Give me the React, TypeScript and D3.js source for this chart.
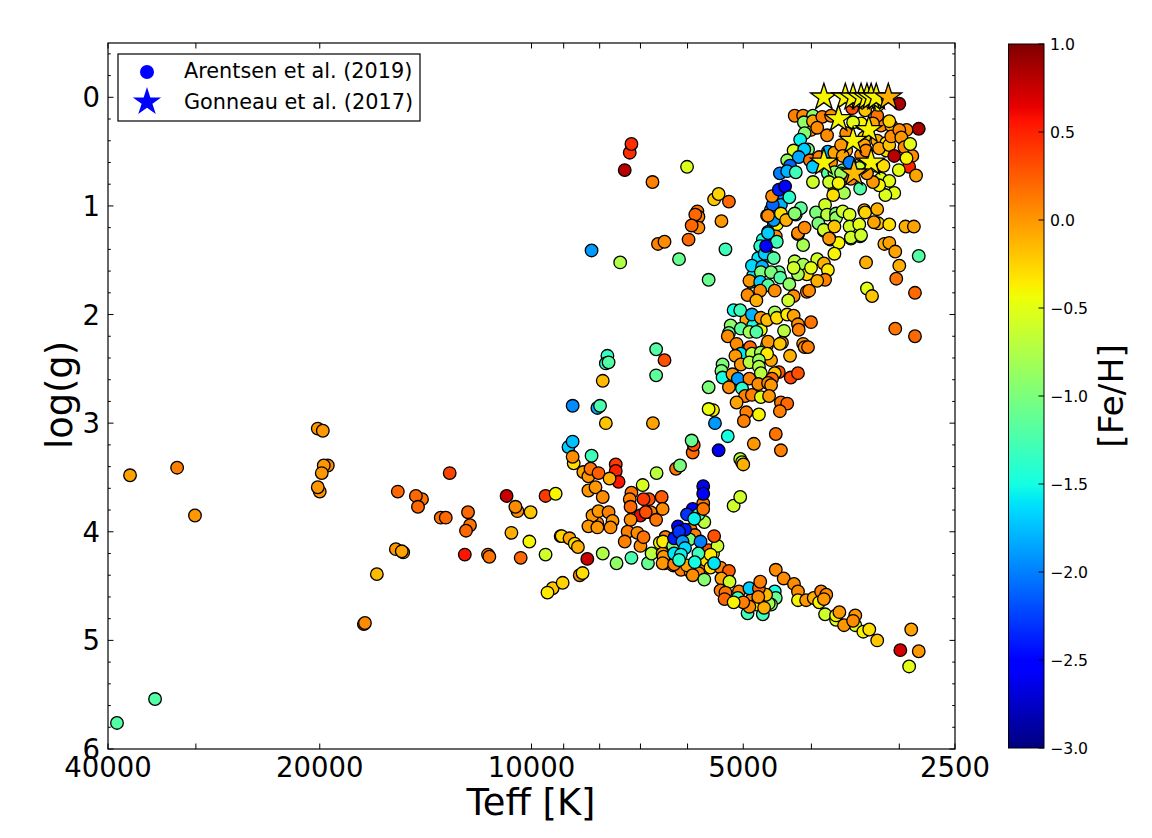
import React from "react";
import * as d3 from "d3";

type Row = [number, number, number]; // Teff [K], log(g), [Fe/H]

const hotStars: Row[] = [
  [38840,5.76,-1.2],[34290,5.54,-1.2],[37216,3.48,-0.05],[31900,3.41,0.1],[30090,3.85,0],
  [20130,3.05,0],[19800,3.07,0],[19480,3.39,0.05],[19740,3.39,0],[19870,3.46,0],[20000,3.63,0],[20130,3.59,0],
  [15490,3.63,0.2],[14310,3.7,0.15],[14600,3.67,0.2],[14500,3.77,0.2],[13070,3.46,0.35],[13460,3.87,0.15],[13240,3.87,0.2],
  [12310,3.82,0.2],[12230,3.94,0.15],[12390,3.99,0.2],[12440,4.21,0.55],[11530,4.21,0.1],[11480,4.23,0.15],
  [15590,4.16,0],[15220,4.19,0],[15290,4.18,-0.05],[16590,4.39,-0.15],[17310,4.85,0],[17250,4.84,0.05],
  [10850,3.67,0.75],[10470,3.81,0.05],[10540,3.77,0.05],[10030,3.82,-0.2],[10680,4.01,-0.1],[10070,4.09,-0.4],[10360,4.24,0.2],
];

const warmStars: Row[] = [
  [9550,4.21,-0.6],[9550,3.67,0.4],[9240,3.65,-0.4],[9090,4.04,-0.2],[9330,4.52,-0.2],[9490,4.56,-0.35],[9030,4.47,-0.25],
  [8860,3.22,-1.7],[8740,3.17,-1.75],[8710,3.37,-0.3],[8740,3.31,0.05],[8215,3.3,-1.3],[8440,3.45,-0.05],[8300,3.49,0],[8243,3.42,0.15],
  [8030,3.46,0.25],[7590,3.38,0.4],[7590,3.44,0.5],[7520,3.54,0.55],[7745,3.51,-0.1],[8300,3.62,0],[8110,3.59,0],[7920,3.68,0.05],
  [6950,3.57,-0.55],[6640,3.46,-0.7],[6230,3.42,0.15],[6150,3.39,-1],[5900,3.27,0.2],[5880,3.2,0.3],[5920,3.16,-1.1],[5420,3.25,-2.6],
  [7210,3.64,0.15],[7250,3.7,0.1],[7230,3.77,0.2],[6810,3.7,0.3],[6930,3.7,0.4],[6530,3.68,0.25],[6510,3.79,0.05],[7000,3.85,0.6],
  [6770,3.82,0.1],[6880,3.82,0.3],[6650,3.89,0.15],[7230,3.89,0.05],[7300,4,0.1],[7070,4.01,0.05],[7370,4.09,0.1],[7000,4.13,0.05],[6930,4.05,0.15],
  [8060,3.92,0.1],[8190,3.85,0],[8030,3.81,0],[7770,3.82,0.1],[8300,3.95,0],[8060,3.96,0],[7670,3.9,0],[7720,3.96,0.05],
  [9060,4.04,-0.25],[8830,4.06,-0.05],[8680,4.11,-0.3],[8590,4.14,-0.1],[8330,4.25,0.75],[7920,4.2,-0.75],[7570,4.29,-0.9],[7210,4.24,-1.25],
  [6830,4.29,-1.1],[6750,4.2,-0.7],[8540,4.4,0.05],[8460,4.38,-0.3],
];

const turnoffBackground: Row[] = [
  [6570,4.1,-0.4],[6450,4.05,-0.3],[6380,4.13,-0.25],[6230,4.2,0],[6510,4.2,-0.05],[6470,4.29,0.1],[6290,4.31,0.1],[6130,4.35,0.1],[5940,4.37,-0.05],
  [5750,4.33,0.05],[5655,4.26,-0.3],[5565,4.33,-0.3],[5940,3.98,0.1],[5860,4.03,0.1],[5520,4.2,-0.4],[5600,4.17,0.3],
  [5070,4.55,0.1],[4875,4.63,0.1],[4790,4.67,-0.4],[4640,4.6,-0.05],
];

const turnoffStars: Row[] = [
  [5700,3.74,0.1],[5160,3.76,-0.6],[5050,3.68,-0.6],[6450,4.05,0.1],[6490,4.23,0],[6510,4.29,0],[6500,4.09,-0.35],[6270,4.3,0.1],[6010,4.31,-0.05],
  [5790,4.38,0.05],[5900,4.4,0.05],[5680,4.44,-0.95],[5385,4.33,0.1],[5240,4.36,0.25],[5370,4.43,-0.05],[5230,4.46,-0.6],[5385,4.54,0.1],
  [5300,4.56,0.15],[5315,4.62,0.2],[5160,4.65,-0.4],[5440,4.13,-0.6],[5565,4.21,-0.35],[5500,4.04,0.3],
  [5860,3.88,-0.7],[5680,3.91,-0.7],[5960,4.07,-1],[6290,4.13,-1],
  [5700,3.58,-2.6],[5700,3.65,-2.5],[5900,3.79,-2.5],[6010,3.84,-2.3],[5790,3.84,-1.3],[5870,3.88,-1.55],[6190,3.95,-2.5],[6050,3.98,-2.4],[6270,4.06,-2.4],[6170,4,-2.3],
  [6100,4.09,-1.9],[5750,4.09,-2],[6050,4.15,-1.65],[6270,4.2,-1.6],[6130,4.21,-1.55],[5790,4.2,-1.3],[6170,4.26,-1.4],[5860,4.28,-1.5],[5500,4.29,-1.6],[5700,3.79,0.15],
];

const dwarfStars: Row[] = [
  [4900,4.52,-1.7],[4510,4.55,-1.5],[4495,4.61,-1.1],[4565,4.67,-0.9],[4930,4.75,-1.3],[4690,4.76,-1.3],[4600,4.66,-0.8],[5090,4.61,-1.3],
  [4640,4.58,-0.15],[4900,4.69,0.05],[5000,4.65,0.1],[4670,4.7,-0.1],[4750,4.52,0.2],[4730,4.46,0.1],[4760,4.6,0.05],
  [4495,4.35,0.05],[4380,4.43,0.05],[4235,4.48,0.05],[4180,4.55,0.05],[4180,4.63,-0.4],[4070,4.63,0],[3970,4.61,-0.1],
  [3875,4.55,0.1],[3810,4.58,0.05],[3900,4.65,-0.4],[3840,4.62,0],[3825,4.76,-0.6],[3690,4.81,-0.5],[3690,4.77,-0.4],[3650,4.74,0],
  [3465,4.86,-0.5],[3465,4.77,0],[3595,4.86,0],[3490,4.82,0.05],[3375,4.92,-0.4],[3310,4.9,-0.3],[3225,5,-0.2],
  [2885,4.9,-0.05],[2990,5.09,0.7],[2815,5.1,0],[2905,5.24,-0.5],
];

const lowerGiants: Row[] = [
  [5600,1.68,-1.1],[6170,1.49,-1.1],[5300,1.4,-1.3],[5980,1.31,0.2],
  [5210,2.1,-0.9],[4950,2.05,-0.05],[4840,2.1,-1.5],[4950,2.33,-0.3],[4720,2.14,-0.5],[4565,2.42,-0.05],[5040,2.65,-1.5],[5070,2.33,-1.6],
  [5160,1.96,-1.5],[5050,1.96,-1.3],[4860,2,-1.8],[4720,2.03,0],[4625,2.05,-0.15],[4510,1.98,-0.8],[4480,2.03,-0.3],[4330,2,-0.35],[4240,2.01,-0.05],
  [4180,2.09,0.05],[4170,2.14,0.1],[4005,2.07,0.15],[4375,2.15,-0.7],[5240,2.17,-1.1],[5260,2.2,0.05],[5040,2.13,-1.15],[4900,2.16,-0.8],[4790,2.16,-1.2],
  [5110,2.27,0.05],[4890,2.3,0.2],[4625,2.28,-0.7],[4610,2.25,0],[4405,2.26,0],[4435,2.27,-0.2],[5040,2.36,-1.6],[4860,2.36,-0.7],[4720,2.35,-0.8],[4625,2.36,-0.35],
  [4110,2.27,0],[4090,2.3,0.05],[4045,2.3,0.1],[4290,2.38,-0.1],[5130,2.38,0],[5040,2.46,0],[4900,2.44,-0.7],[4750,2.42,-0.85],[4750,2.48,-0.75],
  [5350,2.46,-1],[5370,2.52,-1],[5350,2.58,-1.5],[5180,2.55,0],[5090,2.59,-1.9],[4900,2.59,0.1],[5240,2.67,0.05],[5600,2.67,-1],[5020,2.68,-1.4],
  [4720,2.54,-0.7],[4450,2.53,0.3],[4280,2.58,0.35],[4180,2.54,0.3],[4510,2.54,-0.2],[4550,2.59,0.2],[4760,2.64,0.05],[4610,2.63,0.1],[4565,2.65,0],
  [4970,2.75,0.1],[4860,2.74,0.1],[4720,2.76,-0.5],[4595,2.75,0],[5110,2.81,-0.05],[4420,2.81,0.15],[4330,2.82,0.2],[4435,2.89,0.1],
  [5520,2.88,-0.35],[5600,2.87,-0.45],[4950,2.9,0.1],[4750,2.92,-0.4],[4990,2.98,0.1],[5485,3,-1.9],[5260,3.12,-1.5],[4495,3.1,0.15],[4830,3.19,0],[4420,3.25,0.1],
  [5050,3.33,-0.65],[5020,3.36,-0.7],[5000,3.38,-0.1],
];

const midGiants: Row[] = [
  [4570,1.04,-1.9],[4510,0.95,-2],[4420,0.9,-2],[4525,1.18,-1.5],[4480,1.17,-0.4],[4550,1.32,-1.6],[4690,1.31,-1.5],[4595,1.46,-1.6],[4760,1.48,-1.6],[4840,1.64,-1.6],[4880,1.7,-1.7],
  [4625,1.09,0.05],[4610,1.24,-1.75],[4495,1.28,0.05],[4610,1.25,-1.7],[4480,1.33,-1.3],[4730,1.37,-1.4],[4660,1.44,-1.7],[4640,1.37,-2.55],[4525,1.48,-1.2],
  [4860,1.55,-1.65],[4700,1.56,-1.8],[4720,1.61,-1],[4450,1.61,-1.1],[4565,1.61,-1],[4900,1.69,0],[4730,1.7,-1.7],[4610,1.73,-1.2],[4430,1.66,-1.2],
  [4510,1.78,0.05],[4730,1.78,0.05],[4930,1.82,0.05],[4790,1.87,-0.1],[4300,1.72,-0.9],[4240,1.83,0.05],[4315,1.87,-0.6],[4060,1.79,0.1],[4030,1.78,0.05],
  [4110,1.36,-0.8],[4180,1.26,0.05],[3840,1.23,-0.5],[3760,1.31,-0.15],[3660,1.34,-0.4],[3710,1.44,-0.4],[3515,1.3,-0.6],[3410,1.28,-0.5],[3345,1.52,-0.1],
  [3150,1.35,-0.1],[3100,1.34,-0.05],[3040,1.42,-0.05],[2815,1.46,-1.2],[3000,1.55,-0.1],[3030,1.67,0.15],[3335,1.76,-0.5],[3280,1.83,-0.2],[2850,1.8,0.2],
  [3040,2.13,0.15],[2850,2.2,0.2],[4225,1.51,-0.7],[4110,1.54,-0.8],[3925,1.49,-0.6],[3840,1.53,-0.1],[3790,1.59,-0.35],[3825,1.68,0.1],[3925,1.69,-0.1],
  [4060,1.63,-0.3],[4180,1.63,-0.8],[4240,1.57,-0.6],[4005,1.57,-0.5],
];

const upperGiants: Row[] = [
  [4005,0.3,0.05],[3400,0.24,-0.4],[3185,0.26,0.05],[3080,0.26,-0.1],[2930,0.3,0.05],[3570,0.49,-0.1],[3400,0.53,0.05],[3235,0.63,-0.4],[3130,0.49,-0.3],
  [3420,0.65,-0.6],[3610,0.67,-1.1],[3185,0.75,-0.5],[3515,0.75,0.05],[3980,0.78,-0.6],[3875,0.63,-0.3],[3750,0.6,0.05],
  [4525,1.13,-1.9],[4420,0.99,-1.8],[4540,0.99,-2.1],[4550,0.91,0.05],[4450,0.85,-2.4],[4360,0.82,-2.5],[4300,0.92,-1.4],[4610,1.09,0.05],[4420,1.07,-0.3],[4345,1.13,-0.1],
  [4210,1.08,-1.15],[4140,1.02,-1.15],[4225,1.07,-0.95],[4180,1.25,0.05],[4090,1.2,0.05],[3940,1.06,-1],[3825,0.99,-0.6],[3800,1.08,-0.7],[3910,1.16,-1],[3840,1.22,-0.6],
  [3690,1.07,-1],[3690,1.11,-0.9],[3710,1.19,-0.2],[3610,1.05,-0.6],[3530,1.08,-0.55],[3365,1.04,-0.1],[3355,1.06,-0.25],[3225,1.03,-0.1],[3530,1.19,-0.6],[3420,1.17,-0.5],
  [3215,1.16,-0.2],[3260,1.15,-0.05],[3100,1.17,-0.3],[2940,1.19,-0.1],[2860,1.19,-0.05],[3515,1.29,-0.6],[3400,1.27,-0.6],[3775,1.3,0],
  [3000,0.06,0.85],[2815,0.29,0.85],[3500,0.1,0.3],[3225,0.17,0.15],[3100,0.22,-0.25],[3355,0.12,-0.2],[3215,0.07,-0.4],[3490,0.23,-0.5],[3365,0.37,-0.3],[3225,0.4,-0.1],
  [3365,0.44,-0.05],[3270,0.24,-0.05],[3130,0.42,-0.35],
  [4225,0.17,0.1],[4110,0.17,0.05],[3980,0.17,-0.9],[4100,0.23,-0.9],[3980,0.22,-0.05],[3860,0.18,0.1],[3750,0.17,0.05],[3925,0.28,0.05],[3800,0.35,0.05],
  [4090,0.33,-0.95],[4150,0.39,-1.55],[4240,0.49,-0.55],[4045,0.48,-1],[4095,0.48,-1.7],[4330,0.58,-0.85],[4170,0.55,-1.85],[4435,0.7,-2],[4290,0.63,-2.1],[4330,0.68,-1.8],[4210,0.69,-1.3],
  [4020,0.58,0.15],[3980,0.64,-1.7],[3900,0.55,0.1],[3790,0.5,-1.8],[3710,0.51,-0.05],[3630,0.44,0],[3610,0.54,-0.05],[3530,0.6,-2],[3570,0.33,0.05],[3345,0.49,0.05],
  [3205,0.47,-0.05],[3100,0.44,-0.2],[3080,0.36,0.05],[3000,0.3,0.05],[2980,0.37,0],[2950,0.46,0.05],[2875,0.54,0.05],[2895,0.43,-0.5],[3050,0.54,0.8],[2905,0.64,0.5],
  [2840,0.72,-0.05],[2930,0.56,-0.4],[3005,0.67,-0.5],[3100,0.77,-0.5],[3050,0.88,-0.5],[3140,0.9,-0.55],[3205,0.81,-0.4],[3270,0.78,0],[3410,0.84,-1.2],[3335,0.7,0],[3160,0.63,-0.3],
  [3790,0.7,-1.2],[3710,0.69,-0.9],[3630,0.7,-0.85],[3710,0.86,-0.65],[3595,0.88,-0.8],[3725,0.9,-0.3],[3775,0.78,-0.6],[3660,0.79,-0.4],
];

const scatteredStars: Row[] = [
  [5500,0.94,-0.2],[5420,0.89,-0.25],[5240,0.96,0.2],[5370,1.14,0],[7250,0.51,0.45],[7210,0.43,0.45],[7370,0.67,0.8],[6010,0.64,-0.55],[6730,0.78,0.1],
  [5810,1.05,0.15],[5790,1.1,0.1],[5850,1.08,0.2],[5790,1.2,0.05],[5920,1.18,0.2],[6610,1.35,0.1],[6470,1.33,0.05],[8215,1.41,-1.9],[7480,1.52,-0.75],
  [7800,2.38,-1.35],[7840,2.45,-1.4],[7770,2.44,-1.2],[7920,2.61,-0.15],[6650,2.32,-1.2],[6470,2.42,0.3],[6650,2.56,-1.15],
  [8740,2.84,-1.95],[8060,2.86,-1.85],[7990,2.84,-1.25],[7840,3,-0.2],[6720,3,-0.05],
];

const gonneauTeff = [3840, 3580, 3490, 3400, 3335, 3290, 3235, 3110, 3660, 3315, 3490, 3840, 3290, 3480];
const gonneauLogg = [0, 0, 0, 0, 0, 0, 0, 0, 0.2, 0.3, 0.4, 0.6, 0.6, 0.7];
const gonneauFeh = [-0.4, -0.4, -0.4, -0.4, -0.4, -0.4, -0.4, -0.1, -0.4, -0.4, -0.4, -0.4, -0.4, -0.15];

const xMajor = [40000, 20000, 10000, 5000, 2500];
const xMinor = [30000, 9000, 8000, 7000, 6000, 4000, 3000];
const yMajor = [0, 1, 2, 3, 4, 5, 6];
const yMinor = d3.range(-0.4, 6, 0.2).filter((v) => Math.abs(v - Math.round(v)) > 0.01);
const cbTicks = [1, 0.5, 0, -0.5, -1, -1.5, -2, -2.5, -3];

const legendNames = ["Arentsen et al. (2019)", "Gonneau et al. (2017)"];
const LABEL_FONT = "'DejaVu Sans', sans-serif";

const jetR = d3.scaleLinear([0, 0.35, 0.66, 0.89, 1], [0, 0, 1, 1, 0.5]).clamp(true);
const jetG = d3.scaleLinear([0, 0.125, 0.375, 0.64, 0.91, 1], [0, 0, 1, 1, 0, 0]).clamp(true);
const jetB = d3.scaleLinear([0, 0.11, 0.34, 0.65, 1], [0.5, 1, 1, 0, 0]).clamp(true);
const fehT = d3.scaleLinear([-3, 1], [0, 1]);
const jet = (feh: number) => {
  const t = fehT(feh);
  return d3.rgb(jetR(t) * 255, jetG(t) * 255, jetB(t) * 255).formatHex();
};

export default function App() {
  const x = d3.scaleLog([40000, 2500], [108, 955]);
  const y = d3.scaleLinear([-0.5, 6], [43, 749]);
  const cb = d3.scaleLinear([-3, 1], [748, 44]);
  const allStars = [...hotStars, ...warmStars, ...turnoffBackground, ...dwarfStars, ...turnoffStars, ...scatteredStars, ...midGiants, ...lowerGiants, ...upperGiants];
  const star = d3.symbol(d3.symbolStar, 220)()!;
  const legendStar = d3.symbol(d3.symbolStar, 249)()!;
  const steps = d3.range(0, 256).map((i) => -3 + (4 * i) / 255);
  const L = 108, R = 955, T = 43, B = 749;
  return (
    <svg width={1152} height={838} style={{ position: "absolute", left: 0, top: 0, display: "block", background: "#fff" }} fontFamily={LABEL_FONT}>
      <defs>
        <linearGradient id="jetbar" x1="0" x2="0" y1="1" y2="0">
          {steps.map((v, i) => <stop key={i} offset={i / 255} stopColor={jet(v)} />)}
        </linearGradient>
        <clipPath id="plot"><rect x={L} y={T} width={R - L} height={B - T} /></clipPath>
      </defs>
      <g clipPath="url(#plot)">
        {allStars.map(([t, g, f], i) => (
          <circle key={i} cx={x(t)} cy={y(g)} r={6.3} fill={jet(f)} stroke="#000" strokeWidth={1.3} />
        ))}
      </g>
      <g clipPath="url(#plot)">
        {gonneauTeff.map((t, i) => (
          <path key={i} d={star} transform={`translate(${x(t)},${y(gonneauLogg[i])})`} fill={jet(gonneauFeh[i])} stroke="#000" strokeWidth={1.3} />
        ))}
      </g>
      <rect x={L} y={T} width={R - L} height={B - T} fill="none" stroke="#000" strokeWidth={1.2} />
      {xMajor.concat(xMinor).map((v) => (
        <g key={v} stroke="#000" strokeWidth={1}>
          <line x1={x(v)} x2={x(v)} y1={B} y2={B - 5.5} />
          <line x1={x(v)} x2={x(v)} y1={T} y2={T + 5.5} />
        </g>
      ))}
      {yMajor.map((v) => (
        <g key={v} stroke="#000" strokeWidth={1}>
          <line x1={L} x2={L + 5.5} y1={y(v)} y2={y(v)} />
          <line x1={R} x2={R - 5.5} y1={y(v)} y2={y(v)} />
        </g>
      ))}
      {yMinor.map((v) => (
        <g key={v} stroke="#000" strokeWidth={1}>
          <line x1={L} x2={L + 2.8} y1={y(v)} y2={y(v)} />
          <line x1={R} x2={R - 2.8} y1={y(v)} y2={y(v)} />
        </g>
      ))}
      {xMajor.map((v) => (
        <text key={v} x={x(v)} y={777} fontSize={27.5} textAnchor="middle" fill="#000">{v}</text>
      ))}
      {yMajor.map((v) => (
        <text key={v} x={100} y={y(v) + 10} fontSize={27.5} textAnchor="end" fill="#000">{v}</text>
      ))}
      <text x={531} y={815} fontSize={36.8} textAnchor="middle" fill="#000">Teff [K]</text>
      <text transform="translate(72,395) rotate(-90)" fontSize={36.8} textAnchor="middle" fill="#000">log(g)</text>

      <rect x={118} y={54} width={302} height={67} fill="#fff" stroke="#000" strokeWidth={1.2} />
      <circle cx={147} cy={72} r={7} fill="#0000ff" />
      <path d={legendStar} transform="translate(147,102)" fill="#0000ff" />
      <text x={184} y={78} fontSize={20.8} fill="#000">{legendNames[0]}</text>
      <text x={184} y={109} fontSize={20.8} fill="#000">{legendNames[1]}</text>

      <rect x={1008.5} y={44} width={35.5} height={704} fill="url(#jetbar)" stroke="#000" strokeWidth={1} />
      {cbTicks.map((v) => (
        <g key={v}>
          <line x1={1044} x2={1038.5} y1={cb(v)} y2={cb(v)} stroke="#000" strokeWidth={1} />
          <text x={1050} y={cb(v) + 5.5} fontSize={15.7} fill="#000">{v < 0 ? `\u2212${Math.abs(v).toFixed(1)}` : v.toFixed(1)}</text>
        </g>
      ))}
      <text transform="translate(1123,396) rotate(-90)" fontSize={34.5} textAnchor="middle" fill="#000">[Fe/H]</text>
    </svg>
  );
}
